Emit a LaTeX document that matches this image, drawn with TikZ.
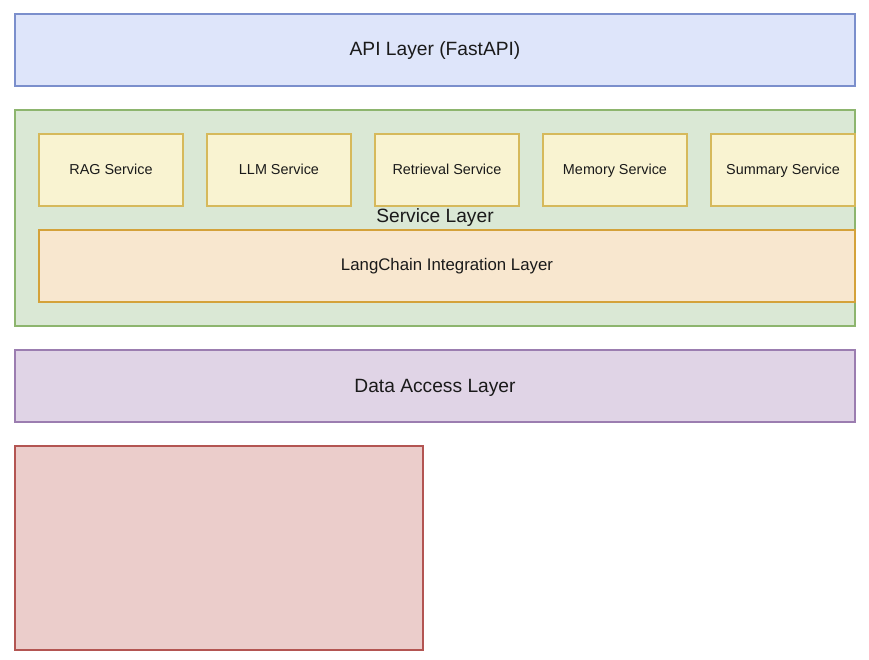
\documentclass[tikz,border=0pt]{standalone}
\usepackage{fontspec}
\setmainfont{Liberation Sans}
\definecolor{apiF}{HTML}{DEE5FA}\definecolor{apiD}{HTML}{7B8FCC}
\definecolor{grnF}{HTML}{DAE8D5}\definecolor{grnD}{HTML}{8DB56E}
\definecolor{yelF}{HTML}{F9F3D1}\definecolor{yelD}{HTML}{D6B95B}
\definecolor{orgF}{HTML}{F8E7CF}\definecolor{orgD}{HTML}{D4A23A}
\definecolor{purF}{HTML}{E0D4E6}\definecolor{purD}{HTML}{9B7DB0}
\definecolor{redF}{HTML}{EBCDCB}\definecolor{redD}{HTML}{B35552}
\definecolor{txt}{HTML}{1A1A1A}
\tikzset{
  box/.style={draw, line width=1.1pt},
  lbl/.style={anchor=base, inner sep=0pt, text=txt},
  big/.style={lbl, font=\fontsize{19.2}{22}\selectfont},
  mid/.style={lbl, font=\fontsize{16.8}{20}\selectfont},
  small/.style={lbl, font=\fontsize{14.4}{17}\selectfont},
}
\begin{document}
\begin{tikzpicture}[x=1pt,y=-1pt]
\useasboundingbox (0,0) rectangle (869,660);
% API layer
\draw[box, fill=apiF, draw=apiD] (15,14) rectangle (855,86);
\node[big] (api) at (435,56) {API Layer (FastAPI)};
% Service layer container
\draw[box, fill=grnF, draw=grnD] (15,110) rectangle (855,326);
\node[big] (svc) at (435,222.5) {Service Layer};
% services
\foreach \x/\n/\t in {39/rag/RAG Service, 207/llm/LLM Service, 375/ret/Retrieval Service, 543/mem/Memory Service, 711/sum/Summary Service}{
  \draw[box, fill=yelF, draw=yelD] (\x,134) rectangle ++(144,72);
  \node[small] (\n) at (\x+72,175) {\t};
}
% LangChain
\draw[box, fill=orgF, draw=orgD] (39,230) rectangle (855,302);
\node[mid] (lc) at (447,270) {LangChain Integration Layer};
% Data access
\draw[box, fill=purF, draw=purD] (15,350) rectangle (855,422);
\node[big] (da) at (435,392) {Data Access Layer};
% red box
\draw[box, fill=redF, draw=redD] (15,446) rectangle (423,650);
\end{tikzpicture}
\end{document}
